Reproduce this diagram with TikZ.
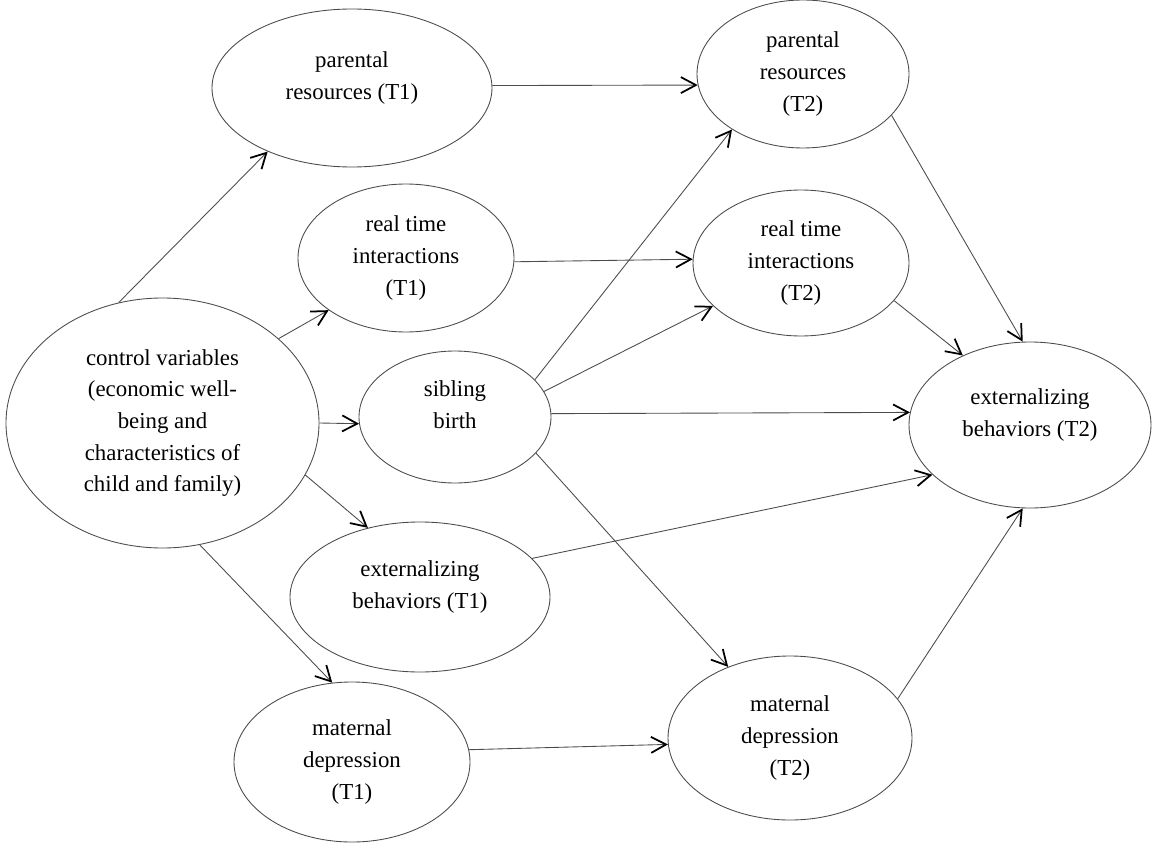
\documentclass[tikz,border=0pt]{standalone}
\usepackage{fontspec}
\setmainfont{Liberation Serif}
\usetikzlibrary{shapes.geometric, positioning, arrows.meta}

\begin{document}
\begin{tikzpicture}
	[on grid, node distance=4cm,
	 >={Straight Barb[length=3mm,width=3.2mm,line width=1pt,color=black]},
	 var/.style={ellipse, draw=black!70, line width=0.5pt, inner sep=0pt, align=center,
	   text=black, font=\fontsize{13}{18}\selectfont},
	 link/.style={->, color=black!70, line width=0.5pt}]
   \useasboundingbox (-3.25,-8.48) rectangle (19.79,8.46);
   % time 1
   \node[var, minimum width=6.26cm, minimum height=5cm] (ctrl) {control variables\\(economic well-\\being and\\characteristics of\\child and family)};
   \node[var, minimum width=5.6cm, minimum height=3.16cm] (pr1) [above right=6.7cm and 3.79cm of ctrl] {parental\\resources (T1)\\[-4pt]\mbox{}};
   \node[var, minimum width=4.32cm, minimum height=2.96cm] (rt1) [above right=3.3cm and 4.87cm of ctrl] {real time\\interactions\\(T1)};
   \node[var, minimum width=3.84cm, minimum height=2.64cm] (sib) [above right=0.12cm and 5.85cm of ctrl] {sibling\\birth\\[-4pt]\mbox{}};
   \node[var, minimum width=5.2cm, minimum height=3cm] (ext1) [below right=3.48cm and 5.15cm of ctrl] {externalizing\\behaviors (T1)\\[-4pt]\mbox{}};
   \node[var, minimum width=4.72cm, minimum height=3.2cm] (md1) [below right=6.78cm and 3.79cm of ctrl] {maternal\\depression\\(T1)};
   % time 2
   \node[var, minimum width=4.24cm, minimum height=2.96cm] (pr2) [above right=0.28cm and 9.02cm of pr1] {parental\\resources\\(T2)};
   \node[var, minimum width=4.32cm, minimum height=2.92cm] (rt2) [below right=0.1cm and 7.9cm of rt1] {real time\\interactions\\(T2)};
   \node[var, minimum width=4.84cm, minimum height=3.32cm] (ext2) [below right=0.16cm and 11.5cm of sib] {externalizing\\behaviors (T2)\\[-4pt]\mbox{}};
   \node[var, minimum width=4.88cm, minimum height=3.28cm] (md2) [above right=0.48cm and 8.76cm of md1] {maternal\\depression\\(T2)};
    \path[link]
    (ctrl.110) edge (pr1.217)
    (ctrl.36) edge (rt1.214)
    (ctrl.east) edge (sib.184)
    (ctrl.340) edge (ext1.127)
    (ctrl.287) edge (md1.104)
    (pr1.1) edge (pr2.186)
    (rt1.358) edge (rt2.178)
    (sib.25) edge (pr2.218)
    (sib.16) edge (rt2.206)
    (sib.2) edge (ext2.174)
    (sib.336) edge (md2.131)
    (ext1.19) edge (ext2.207)
    (md1.6) edge (md2.183)
    (md2.20) edge (ext2.265)
    (pr2.335) edge (ext2.95)
    (rt2.338) edge (ext2.134);
\end{tikzpicture}
\end{document}
